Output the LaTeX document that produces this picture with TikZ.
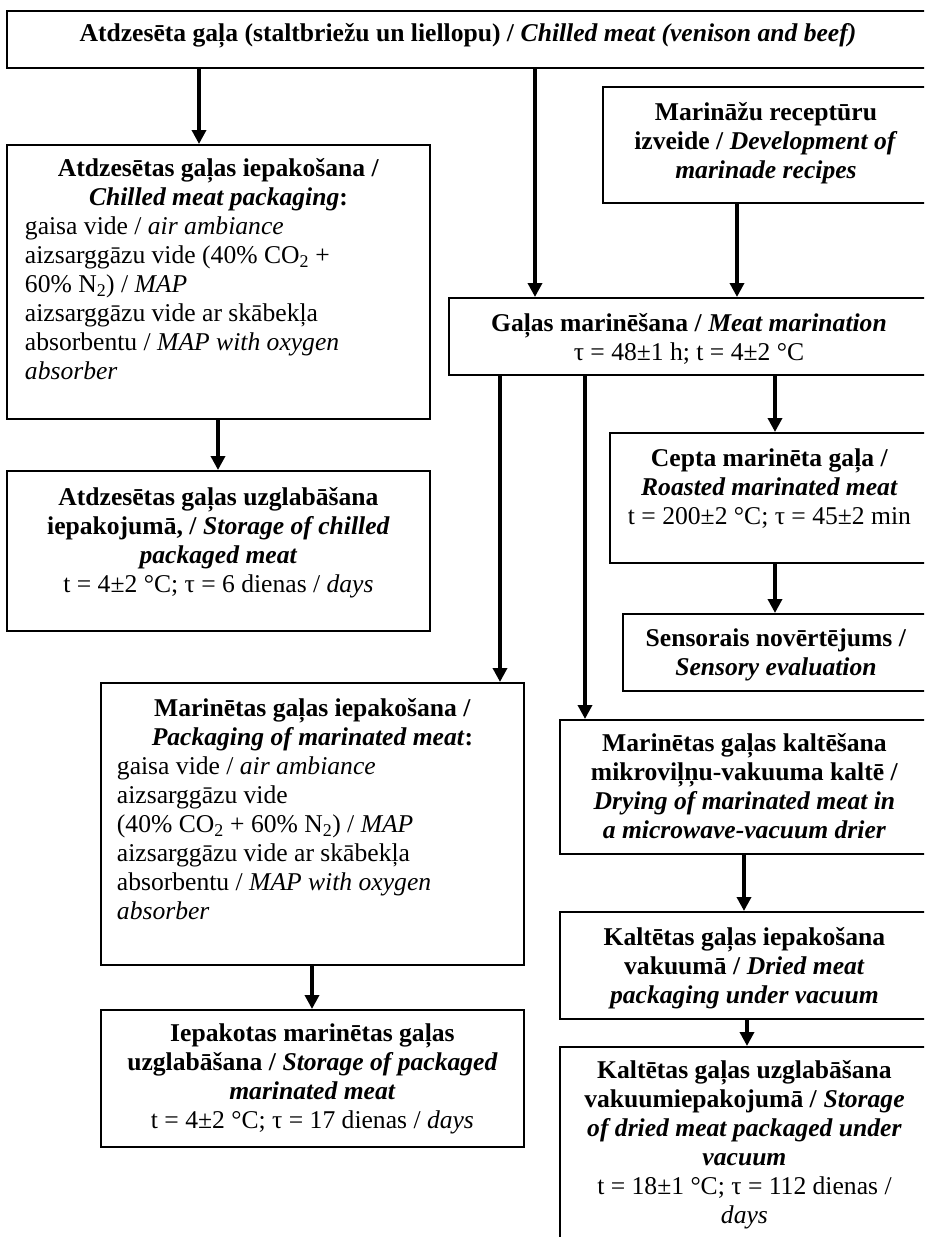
\documentclass[tikz,border=0pt]{standalone}
\usepackage{fontspec}
\setmainfont{Liberation Serif}
\usepackage{tikz}
\usetikzlibrary{arrows.meta}

\newcommand{\boldit}[1]{\textbf{\textit{#1}}}
\newcommand{\steptext}[2]{\parbox[t]{#1}{\centering #2}}

\begin{document}
\begin{tikzpicture}[x=1pt,y=-1pt,
  stepbox/.style={draw, line width=1.9pt, inner sep=0pt, anchor=north west,
                  font=\fontsize{25.6}{29}\selectfont},
  flow/.style={-{Triangle[length=14pt,width=14pt]}, line width=3.4pt}]

\useasboundingbox (0,0) rectangle (924,1237);
\clip (0,0) rectangle (924,1237);

% --- RAW MATERIAL ---
\node[stepbox, minimum width=922, text height=31, text depth=26] (meat) at (6,10)
  {\steptext{910pt}{\textbf{Atdzesēta gaļa (staltbriežu un liellopu) /} \boldit{Chilled meat (venison and beef)}}};

% --- LEFT BRANCH: CHILLED MEAT ---
\node[stepbox, minimum width=423, text height=32, text depth=242] (chillpack) at (6,144)
  {\parbox[t]{387pt}{\centering \textbf{Atdzesētas gaļas iepakošana /}\\
   \textbf{\textit{Chilled meat packaging}:}\par
   \raggedright gaisa vide / \textit{air ambiance}\\
   aizsarggāzu vide (40\% CO\textsubscript{2} +\\
   60\% N\textsubscript{2}) / \textit{MAP}\\
   aizsarggāzu vide ar skābekļa\\
   absorbentu / \textit{MAP with oxygen}\\
   \textit{absorber}}};

\node[stepbox, minimum width=423, text height=35, text depth=125] (chillstore) at (6,470)
  {\steptext{413pt}{\textbf{Atdzesētas gaļas uzglabāšana}\\
   \textbf{iepakojumā, /} \boldit{Storage of chilled}\\
   \boldit{packaged meat}\\
   t = 4±2 °C; τ = 6 dienas / \textit{days}}};

% --- MARINADE ---
\node[stepbox, minimum width=326, text height=34, text depth=82] (recipe) at (602,86)
  {\steptext{316pt}{\textbf{Marināžu receptūru}\\
   \textbf{izveide /} \boldit{Development of}\\
   \boldit{marinade recipes}}};

\node[stepbox, minimum width=480, text height=34, text depth=43] (marin) at (448,297)
  {\steptext{470pt}{\textbf{Gaļas marinēšana /} \boldit{Meat marination}\\
   τ = 48±1 h; t = 4±2 °C}};

% --- ROASTING ---
\node[stepbox, minimum width=319, text height=34, text depth=96] (roast) at (609,432)
  {\steptext{313pt}{\textbf{Cepta marinēta gaļa /}\\
   \boldit{Roasted marinated meat}\\
   t = 200±2 °C; τ = 45±2 min}};

\node[stepbox, minimum width=306, text height=33, text depth=44] (sensory) at (622,613)
  {\steptext{300pt}{\textbf{Sensorais novērtējums /}\\
   \boldit{Sensory evaluation}}};

% --- MARINATED MEAT PACKAGING ---
\node[stepbox, minimum width=423, text height=34, text depth=248] (marpack) at (100,682)
  {\parbox[t]{391pt}{\centering \textbf{Marinētas gaļas iepakošana /}\\
   \textbf{\textit{Packaging of marinated meat}:}\par
   \raggedright gaisa vide / \textit{air ambiance}\\
   aizsarggāzu vide\\
   (40\% CO\textsubscript{2} + 60\% N\textsubscript{2}) / \textit{MAP}\\
   aizsarggāzu vide ar skābekļa\\
   absorbentu / \textit{MAP with oxygen}\\
   \textit{absorber}}};

\node[stepbox, minimum width=423, text height=32, text depth=105] (marstore) at (100,1009)
  {\steptext{417pt}{\textbf{Iepakotas marinētas gaļas}\\
   \textbf{uzglabāšana /} \boldit{Storage of packaged}\\
   \boldit{marinated meat}\\
   t = 4±2 °C; τ = 17 dienas / \textit{days}}};

% --- DRYING ---
\node[stepbox, minimum width=369, text height=32, text depth=102] (dry) at (559,719)
  {\steptext{363pt}{\textbf{Marinētas gaļas kaltēšana}\\
   \textbf{mikroviļņu-vakuuma kaltē /}\\
   \boldit{Drying of marinated meat in}\\
   \boldit{a microwave-vacuum drier}}};

\node[stepbox, minimum width=369, text height=34, text depth=73] (drypack) at (559,911)
  {\steptext{363pt}{\textbf{Kaltētas gaļas iepakošana}\\
   \textbf{vakuumā /} \boldit{Dried meat}\\
   \boldit{packaging under vacuum}}};

\node[stepbox, minimum width=369, text height=32, text depth=172] (drystore) at (559,1046)
  {\steptext{363pt}{\textbf{Kaltētas gaļas uzglabāšana}\\
   \textbf{vakuumiepakojumā /} \boldit{Storage}\\
   \boldit{of dried meat packaged under}\\
   \boldit{vacuum}\\
   t = 18±1 °C; τ = 112 dienas /\\
   \textit{days}}};

% --- ARROWS ---
\draw[flow] (meat.south -| 199,0) -- (chillpack.north -| 199,0);
\draw[flow] (chillpack.south -| 218,0) -- (chillstore.north -| 218,0);
\draw[flow] (meat.south -| 535,0) -- (marin.north -| 535,0);
\draw[flow] (recipe.south -| 737,0) -- (marin.north -| 737,0);
\draw[flow] (marin.south -| 500,0) -- (marpack.north -| 500,0);
\draw[flow] (marin.south -| 585,0) -- (dry.north -| 585,0);
\draw[flow] (marin.south -| 775,0) -- (roast.north -| 775,0);
\draw[flow] (roast.south -| 775,0) -- (sensory.north -| 775,0);
\draw[flow] (marpack.south -| 312,0) -- (marstore.north -| 312,0);
\draw[flow] (dry.south -| 744,0) -- (drypack.north -| 744,0);
\draw[flow] (drypack.south -| 747,0) -- (drystore.north -| 747,0);
\end{tikzpicture}
\end{document}
